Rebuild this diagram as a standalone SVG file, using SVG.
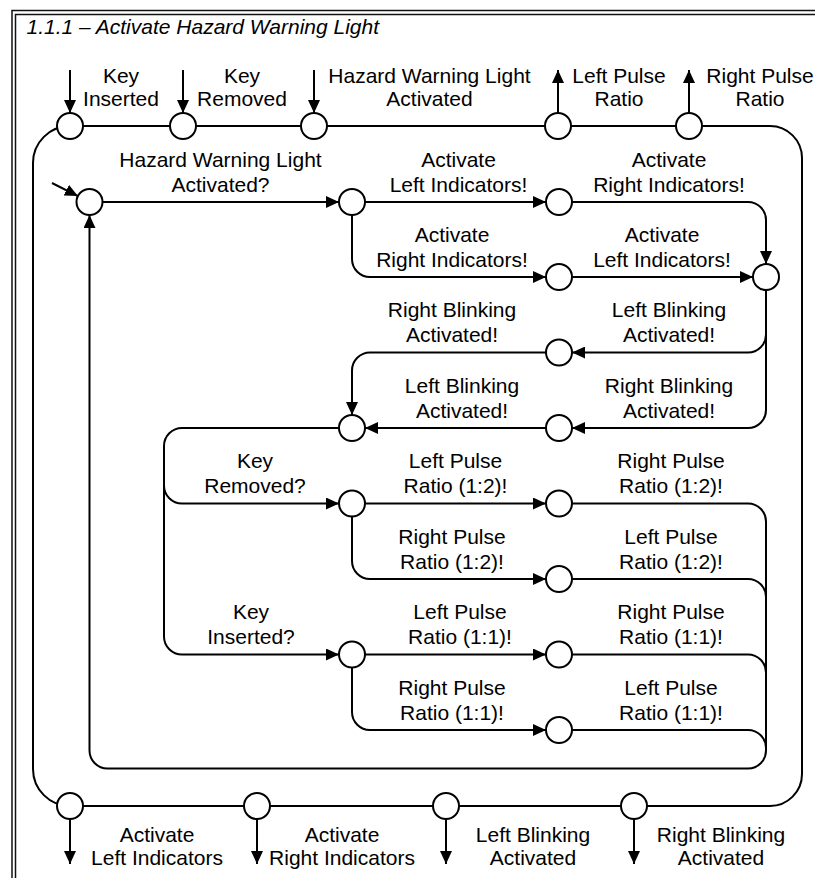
<svg xmlns="http://www.w3.org/2000/svg" width="815" height="878" viewBox="0 0 815 878">
<defs>
<marker id="ah" markerUnits="userSpaceOnUse" markerWidth="13" markerHeight="12" refX="13" refY="6" orient="auto">
<path d="M0,0 L13,6 L0,12 Z" fill="#000"/>
</marker>
<style>
.f{fill:none;stroke:#111;stroke-width:1.5}
.c{fill:none;stroke:#000;stroke-width:2}
.a{marker-end:url(#ah)}
.n circle{fill:#fff;stroke:#000;stroke-width:2}
text{font-family:"Liberation Sans",Arial,sans-serif;font-size:21px;fill:#000;text-anchor:middle}
.t{text-anchor:start;font-style:italic}
</style>
</defs>
<rect width="815" height="878" fill="#fff"/>
<rect class="f" x="12" y="10.5" width="840" height="900"/>
<rect class="f" x="15.5" y="14.5" width="840" height="900"/>
<text class="t" x="26.5" y="34">1.1.1 – Activate Hazard Warning Light</text>

<g id="connectors">
<path class="c" d="M70,126 H770 A32,32 0 0 1 802,158 V774 A32,32 0 0 1 770,806 H70 A37,37 0 0 1 33,769 V163 A37,37 0 0 1 70,126 Z"/>
<path class="c a" d="M70,70 V113"/>
<path class="c a" d="M183,70 V113"/>
<path class="c a" d="M314,70 V113"/>
<path class="c a" d="M558,113 V70"/>
<path class="c a" d="M689,113 V70"/>
<path class="c a" d="M70,819 V864"/>
<path class="c a" d="M257,819 V864"/>
<path class="c a" d="M446,819 V864"/>
<path class="c a" d="M634,819 V864"/>
<path class="c a" d="M52,183 L77.9,196.1"/>
<path class="c a" d="M102.5,202 H339"/>
<path class="c a" d="M365,202 H546"/>
<path class="c a" d="M572,202 H748 A18,18 0 0 1 766,220 V264"/>
<path class="c a" d="M352,215 V259 A18,18 0 0 0 370,277 H546"/>
<path class="c a" d="M572,277 H753"/>
<path class="c a" d="M766,290 V334.5 A18,18 0 0 1 748,352.5 H572"/>
<path class="c a" d="M766,334.5 V410 A18,18 0 0 1 748,428 H572"/>
<path class="c a" d="M546,352.5 H370 A18,18 0 0 0 352,370.5 V415"/>
<path class="c a" d="M546,428 H365"/>
<path class="c a" d="M339,428 H182 A18,18 0 0 0 164,446 V485.5 A18,18 0 0 0 182,503.5 H339"/>
<path class="c a" d="M164,485.5 V636.5 A18,18 0 0 0 182,654.5 H339"/>
<path class="c a" d="M365,503.5 H546"/>
<path class="c a" d="M352,516.5 V561 A18,18 0 0 0 370,579 H546"/>
<path class="c a" d="M365,654.5 H546"/>
<path class="c a" d="M352,667.5 V712 A18,18 0 0 0 370,730 H546"/>
<path class="c a" d="M572,503.5 H748 A18,18 0 0 1 766,521.5 V750.5 A18,18 0 0 1 748,768.5 H107.5 A18,18 0 0 1 89.5,750.5 V215"/>
<path class="c" d="M572,579 H748 A18,18 0 0 1 766,597"/>
<path class="c" d="M572,654.5 H748 A18,18 0 0 1 766,672.5"/>
<path class="c" d="M572,730 H748 A18,18 0 0 1 766,748"/>
</g>

<g id="labels">
<text x="121" y="83">Key<tspan x="121" y="106">Inserted</tspan></text>
<text x="242" y="83">Key<tspan x="242" y="106">Removed</tspan></text>
<text x="429.5" y="83">Hazard Warning Light<tspan x="429.5" y="106">Activated</tspan></text>
<text x="619" y="83">Left Pulse<tspan x="619" y="106">Ratio</tspan></text>
<text x="760" y="83">Right Pulse<tspan x="760" y="106">Ratio</tspan></text>

<text x="157" y="842">Activate<tspan x="157" y="865">Left Indicators</tspan></text>
<text x="342" y="842">Activate<tspan x="342" y="865">Right Indicators</tspan></text>
<text x="533" y="842">Left Blinking<tspan x="533" y="865">Activated</tspan></text>
<text x="721" y="842">Right Blinking<tspan x="721" y="865">Activated</tspan></text>

<text x="220.5" y="166.5">Hazard Warning Light<tspan x="220.5" y="191.5">Activated?</tspan></text>
<text x="458.5" y="166.5">Activate<tspan x="458.5" y="191.5">Left Indicators!</tspan></text>
<text x="669" y="166.5">Activate<tspan x="669" y="191.5">Right Indicators!</tspan></text>

<text x="452" y="241.5">Activate<tspan x="452" y="266.5">Right Indicators!</tspan></text>
<text x="662" y="241.5">Activate<tspan x="662" y="266.5">Left Indicators!</tspan></text>

<text x="452" y="317">Right Blinking<tspan x="452" y="342">Activated!</tspan></text>
<text x="669" y="317">Left Blinking<tspan x="669" y="342">Activated!</tspan></text>

<text x="462" y="392.5">Left Blinking<tspan x="462" y="417.5">Activated!</tspan></text>
<text x="669" y="392.5">Right Blinking<tspan x="669" y="417.5">Activated!</tspan></text>

<text x="255" y="468">Key<tspan x="255" y="493">Removed?</tspan></text>
<text x="455.5" y="468">Left Pulse<tspan x="455.5" y="493">Ratio (1:2)!</tspan></text>
<text x="671" y="468">Right Pulse<tspan x="671" y="493">Ratio (1:2)!</tspan></text>

<text x="452" y="543.5">Right Pulse<tspan x="452" y="568.5">Ratio (1:2)!</tspan></text>
<text x="671" y="543.5">Left Pulse<tspan x="671" y="568.5">Ratio (1:2)!</tspan></text>

<text x="251" y="619">Key<tspan x="251" y="644">Inserted?</tspan></text>
<text x="460" y="619">Left Pulse<tspan x="460" y="644">Ratio (1:1)!</tspan></text>
<text x="671" y="619">Right Pulse<tspan x="671" y="644">Ratio (1:1)!</tspan></text>

<text x="452" y="694.5">Right Pulse<tspan x="452" y="719.5">Ratio (1:1)!</tspan></text>
<text x="671" y="694.5">Left Pulse<tspan x="671" y="719.5">Ratio (1:1)!</tspan></text>
</g>

<g id="node-key-inserted" class="n"><circle cx="70" cy="126" r="13"/></g>
<g id="node-key-removed" class="n"><circle cx="183" cy="126" r="13"/></g>
<g id="node-hazard-activated" class="n"><circle cx="314" cy="126" r="13"/></g>
<g id="node-left-pulse-ratio" class="n"><circle cx="558" cy="126" r="13"/></g>
<g id="node-right-pulse-ratio" class="n"><circle cx="689" cy="126" r="13"/></g>
<g id="node-out-left-indicators" class="n"><circle cx="70" cy="806" r="13"/></g>
<g id="node-out-right-indicators" class="n"><circle cx="257" cy="806" r="13"/></g>
<g id="node-out-left-blinking" class="n"><circle cx="446" cy="806" r="13"/></g>
<g id="node-out-right-blinking" class="n"><circle cx="634" cy="806" r="13"/></g>
<g id="node-start" class="n"><circle cx="89.5" cy="202" r="13"/></g>
<g id="node-a" class="n"><circle cx="352" cy="202" r="13"/></g>
<g id="node-b" class="n"><circle cx="559" cy="202" r="13"/></g>
<g id="node-c" class="n"><circle cx="766" cy="277" r="13"/></g>
<g id="node-d" class="n"><circle cx="559" cy="277" r="13"/></g>
<g id="node-e" class="n"><circle cx="559" cy="352.5" r="13"/></g>
<g id="node-f" class="n"><circle cx="559" cy="428" r="13"/></g>
<g id="node-g" class="n"><circle cx="352" cy="428" r="13"/></g>
<g id="node-h" class="n"><circle cx="352" cy="503.5" r="13"/></g>
<g id="node-i" class="n"><circle cx="559" cy="503.5" r="13"/></g>
<g id="node-j" class="n"><circle cx="559" cy="579" r="13"/></g>
<g id="node-k" class="n"><circle cx="352" cy="654.5" r="13"/></g>
<g id="node-l" class="n"><circle cx="559" cy="654.5" r="13"/></g>
<g id="node-m" class="n"><circle cx="559" cy="730" r="13"/></g>
</svg>
